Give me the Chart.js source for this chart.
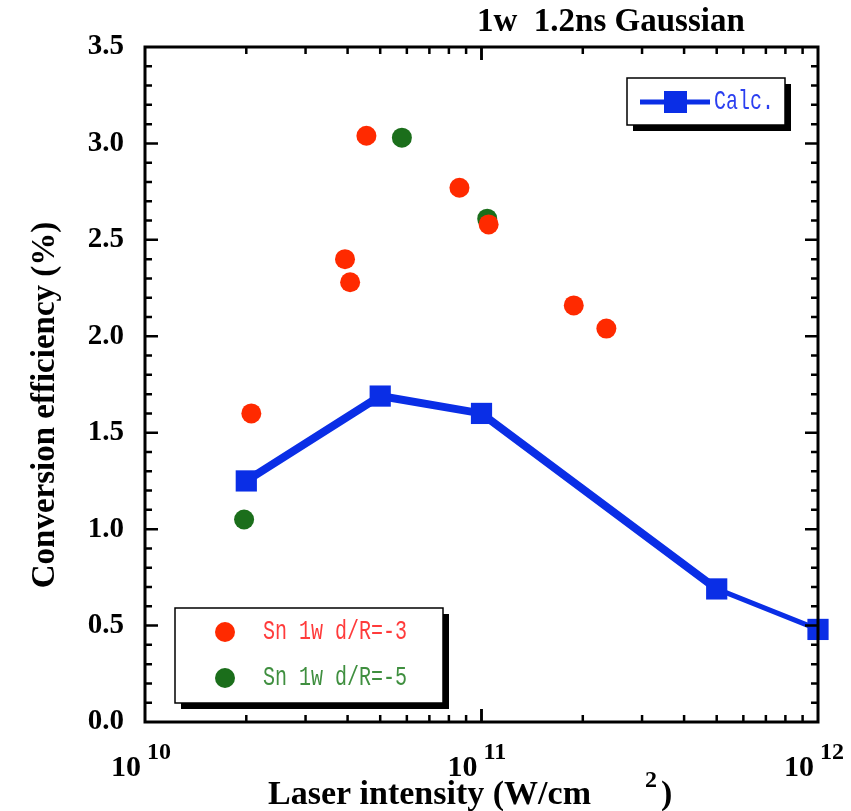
<!DOCTYPE html>
<html>
<head>
<meta charset="utf-8">
<script src="https://cdn.jsdelivr.net/npm/chart.js@4.4.1/dist/chart.umd.min.js"></script>
<style>
  html, body { margin: 0; padding: 0; background: #fff; }
  canvas { display: block; }
</style>
</head>
<body>
<canvas id="chart" width="851" height="811"></canvas>
<script>
// Calculated conversion efficiency (line + squares)
const calcX = [2e10, 5e10, 1e11, 5e11, 1e12];
const calcY = [1.25, 1.69, 1.60, 0.69, 0.48];

// Sn 1w d/R=-3 (red dots)
const snR3X = [2.07e10, 3.93e10, 4.07e10, 4.55e10, 8.6e10, 1.05e11, 1.88e11, 2.35e11];
const snR3Y = [1.60, 2.40, 2.28, 3.04, 2.77, 2.58, 2.16, 2.04];

// Sn 1w d/R=-5 (green dots)
const snR5X = [1.97e10, 5.8e10, 1.04e11];
const snR5Y = [1.05, 3.03, 2.61];

const decades = [1e10, 1e11, 1e12];
const decadeExp = ['10', '11', '12'];

const BLUE = '#0a2ee6';
const RED = '#ff2a00';
const GREEN = '#1b6e1b';
const SERIF = '"Liberation Serif", "Times New Roman", serif';
const MONO = '"Liberation Mono", "DejaVu Sans Mono", monospace';

function pts(xs, ys) {
    return xs.map((x, i) => ({ x: x, y: ys[i] }));
}

// frame, inside ticks, log labels, titles and legends
const decorPlugin = {
    id: 'decor',
    afterDraw(chart) {
        const ctx = chart.ctx;
        const a = chart.chartArea;
        const xs = chart.scales.x;
        const ys = chart.scales.y;

        ctx.save();
        ctx.strokeStyle = '#000';
        ctx.lineWidth = 3;
        ctx.strokeRect(a.left, a.top, a.right - a.left, a.bottom - a.top);

        // y ticks every 0.1, major every 0.5
        ctx.lineWidth = 2.5;
        for (let i = 1; i < 35; i++) {
            const py = ys.getPixelForValue(i / 10);
            const len = (i % 5 === 0) ? 13 : 7;
            ctx.beginPath();
            ctx.moveTo(a.left, py); ctx.lineTo(a.left + len, py);
            ctx.moveTo(a.right, py); ctx.lineTo(a.right - len, py);
            ctx.stroke();
        }
        // x log ticks
        for (let d = 1e10; d < 1e12; d *= 10) {
            for (let m = 1; m <= 10; m++) {
                const v = d * m;
                if (v <= 1e10 || v >= 1e12) continue;
                const px = xs.getPixelForValue(v);
                const len = (m === 10 || m === 1) ? 13 : 7;
                ctx.beginPath();
                ctx.moveTo(px, a.bottom); ctx.lineTo(px, a.bottom - len);
                ctx.moveTo(px, a.top); ctx.lineTo(px, a.top + len);
                ctx.stroke();
            }
        }

        // x tick labels 10^n
        ctx.fillStyle = '#000';
        ctx.textBaseline = 'alphabetic';
        decades.forEach((v, i) => {
            const px = xs.getPixelForValue(v);
            ctx.font = 'bold 30px ' + SERIF;
            ctx.textAlign = 'right';
            ctx.fillText('10', px - 4, a.bottom + 54);
            ctx.font = 'bold 24px ' + SERIF;
            ctx.textAlign = 'left';
            ctx.fillText(decadeExp[i], px + 2, a.bottom + 37);
        });

        // x axis title
        ctx.font = 'bold 34px ' + SERIF;
        ctx.textAlign = 'left';
        ctx.fillText('Laser intensity (W/cm', 268, 804);
        ctx.font = 'bold 24px ' + SERIF;
        ctx.fillText('2', 645, 787);
        ctx.font = 'bold 34px ' + SERIF;
        ctx.fillText(')', 661, 804);

        // y axis title
        ctx.save();
        ctx.translate(45, 405);
        ctx.rotate(-Math.PI / 2);
        ctx.font = 'bold 33px ' + SERIF;
        ctx.textAlign = 'center';
        ctx.textBaseline = 'middle';
        ctx.fillText('Conversion efficiency (%)', 0, 0);
        ctx.restore();

        // top title
        ctx.font = 'bold 33px ' + SERIF;
        ctx.textAlign = 'left';
        ctx.textBaseline = 'middle';
        ctx.fillText('1w  1.2ns Gaussian', 477, 22);

        // legend boxes with drop shadow
        function box(x, y, w, h) {
            ctx.fillStyle = '#000';
            ctx.fillRect(x + 6, y + 6, w, h);
            ctx.fillStyle = '#fff';
            ctx.fillRect(x, y, w, h);
            ctx.strokeStyle = '#000';
            ctx.lineWidth = 1.5;
            ctx.strokeRect(x, y, w, h);
        }
        function monoText(txt, x, y, color) {
            ctx.save();
            ctx.translate(x, y);
            ctx.scale(1, 1.35);
            ctx.fillStyle = color;
            ctx.font = '20px ' + MONO;
            ctx.textAlign = 'left';
            ctx.textBaseline = 'middle';
            ctx.fillText(txt, 0, 0);
            ctx.restore();
        }

        box(627, 78, 158, 47);
        ctx.strokeStyle = BLUE;
        ctx.lineWidth = 5;
        ctx.beginPath();
        ctx.moveTo(640, 102); ctx.lineTo(710, 102);
        ctx.stroke();
        ctx.fillStyle = BLUE;
        ctx.fillRect(664, 91, 23, 22);
        monoText('Calc.', 714, 102, '#2b3ff0');

        box(175, 608, 268, 95);
        ctx.fillStyle = RED;
        ctx.beginPath(); ctx.arc(225, 632, 10, 0, Math.PI * 2); ctx.fill();
        ctx.fillStyle = GREEN;
        ctx.beginPath(); ctx.arc(225, 678, 10, 0, Math.PI * 2); ctx.fill();
        monoText('Sn 1w d/R=-3', 263, 632, '#ff3b3b');
        monoText('Sn 1w d/R=-5', 263, 678, '#3f8f3f');

        ctx.restore();
    }
};

new Chart(document.getElementById('chart'), {
    type: 'scatter',
    data: {
        datasets: [
            {
                label: 'Sn 1w d/R=-3',
                data: pts(snR3X, snR3Y),
                backgroundColor: RED,
                borderColor: RED,
                pointRadius: 10,
                pointBorderWidth: 0
            },
            {
                label: 'Sn 1w d/R=-5',
                data: pts(snR5X, snR5Y),
                backgroundColor: GREEN,
                borderColor: GREEN,
                pointRadius: 10,
                pointBorderWidth: 0
            },
            {
                label: 'Calc.',
                data: pts(calcX, calcY),
                showLine: true,
                clip: false,
                borderColor: BLUE,
                backgroundColor: BLUE,
                borderWidth: 8,
                segment: {
                    borderWidth: c => c.p1DataIndex === calcX.length - 1 ? 5 : 8
                },
                pointStyle: 'rect',
                pointRadius: 15,
                pointBorderWidth: 0
            }
        ]
    },
    options: {
        responsive: false,
        animation: false,
        layout: { padding: { top: 47, right: 33, left: 0, bottom: 0 } },
        plugins: {
            legend: { display: false },
            tooltip: { enabled: false }
        },
        scales: {
            x: {
                type: 'logarithmic',
                min: 1e10,
                max: 1e12,
                ticks: { display: false },
                grid: { display: false },
                border: { display: false },
                afterFit: s => { s.height = 89; }
            },
            y: {
                min: 0,
                max: 3.5,
                ticks: {
                    stepSize: 0.5,
                    padding: 21,
                    color: '#000',
                    font: { family: SERIF, size: 29, weight: 'bold' },
                    callback: v => v.toFixed(1)
                },
                grid: { display: false, drawTicks: false },
                border: { display: false },
                afterFit: s => { s.width = 145; }
            }
        }
    },
    plugins: [decorPlugin]
});
</script>
</body>
</html>
